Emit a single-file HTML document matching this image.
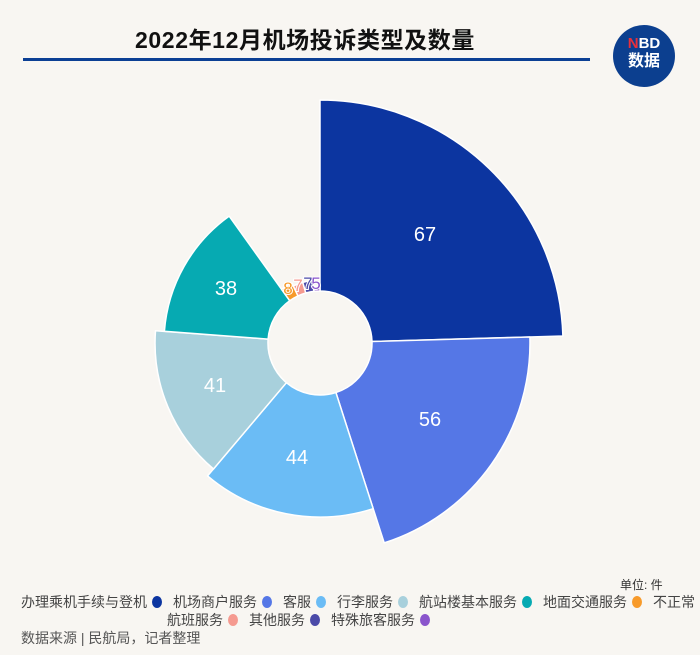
<!DOCTYPE html>
<html><head><meta charset="utf-8"><style>
body{margin:0;width:700px;height:655px;background:#f8f6f2;font-family:"Liberation Sans","Noto Sans CJK SC",sans-serif;position:relative;overflow:hidden}
.t{position:absolute;left:0;width:610px;text-align:center;top:21px;font-size:23px;font-weight:bold;color:#111;letter-spacing:0.6px}
.line{position:absolute;left:23px;top:58px;width:567px;height:3px;background:#0b3f94}
.logo{position:absolute;left:613px;top:25px;width:62px;height:62px;border-radius:50%;background:#0c3f8f;color:#fff;text-align:center;font-weight:bold}
.lg{position:absolute;font-size:14px;color:#444;white-space:nowrap}
.d{display:inline-block;width:10px;height:12px;border-radius:50%;vertical-align:-1px;margin:0 11px 0 5px}
</style></head><body>
<div class="t">2022年12月机场投诉类型及数量</div>
<div class="line"></div>
<div class="logo"><div style="font-size:15px;margin-top:11px;line-height:16px"><span style="color:#e8303a">N</span>BD</div><div style="font-size:16px;line-height:20px">数据</div></div>
<svg width="700" height="655" style="position:absolute;left:0;top:0" font-family="Liberation Sans, Noto Sans CJK SC, sans-serif">
<g stroke="#fff" stroke-width="1.5" stroke-linejoin="round">
<path d="M320,100 A243,243 0 0 1 562.9,336 L372,341.5 A52,52 0 0 0 320,291 Z" fill="#0c35a0"/>
<path d="M529.9,337 A210,210 0 0 1 384.2,542.9 L335.9,392.5 A52,52 0 0 0 372,341.5 Z" fill="#5577e6"/>
<path d="M373.2,508.7 A174,174 0 0 1 207.6,475.9 L286.4,382.7 A52,52 0 0 0 335.9,392.5 Z" fill="#6bbcf5"/>
<path d="M213.5,469 A165,165 0 0 1 155.5,330.7 L268.1,339.1 A52,52 0 0 0 286.4,382.7 Z" fill="#a8d0dc"/>
<path d="M164.4,331.3 A156,156 0 0 1 229.2,216.2 L289.7,300.7 A52,52 0 0 0 268.1,339.1 Z" fill="#06aab2"/>
<path d="M281.6,289.3 A66,66 0 0 1 292.1,283.2 L298,295.9 A52,52 0 0 0 289.7,300.7 Z" fill="#f79a2a"/>
<path d="M293.3,285.9 A63,63 0 0 1 302.8,282.4 L305.8,293 A52,52 0 0 0 298,295.9 Z" fill="#f59a90"/>
<path d="M302.8,282.4 A63,63 0 0 1 312.8,280.4 L314,291.3 A52,52 0 0 0 305.8,293 Z" fill="#4b4aa8"/>
<path d="M313.5,286.4 A57,57 0 0 1 320,286 L320,291 A52,52 0 0 0 314,291.3 Z" fill="#8a55cc"/>
</g>
<g fill="#fff" font-size="20" text-anchor="middle">
<text x="425" y="241">67</text>
<text x="430" y="426">56</text>
<text x="297" y="464">44</text>
<text x="215" y="392">41</text>
<text x="226" y="295">38</text>
</g>
<g font-size="17" text-anchor="middle" stroke="#fff" stroke-width="2" paint-order="stroke">
<text x="288" y="294" fill="#f79a2a">8</text>
<text x="298" y="291" fill="#f59a90">7</text>
<text x="308" y="289" fill="#4b4aa8">7</text>
<text x="316" y="289" fill="#8a55cc">5</text>
</g>
</svg>
<div class="lg" style="left:620px;top:576px;font-size:12px;color:#333">单位: 件</div>
<div class="lg" style="left:21px;top:592px">办理乘机手续与登机<span class="d" style="background:#0c35a0"></span>机场商户服务<span class="d" style="background:#5577e6"></span>客服<span class="d" style="background:#6bbcf5"></span>行李服务<span class="d" style="background:#a8d0dc"></span>航站楼基本服务<span class="d" style="background:#06aab2"></span>地面交通服务<span class="d" style="background:#f79a2a"></span>不正常</div>
<div class="lg" style="left:167px;top:610px">航班服务<span class="d" style="background:#f59a90"></span>其他服务<span class="d" style="background:#4b4aa8"></span>特殊旅客服务<span class="d" style="background:#8a55cc"></span></div>
<div class="lg" style="left:21px;top:628px;color:#555">数据来源 | 民航局，记者整理</div>
</body></html>
